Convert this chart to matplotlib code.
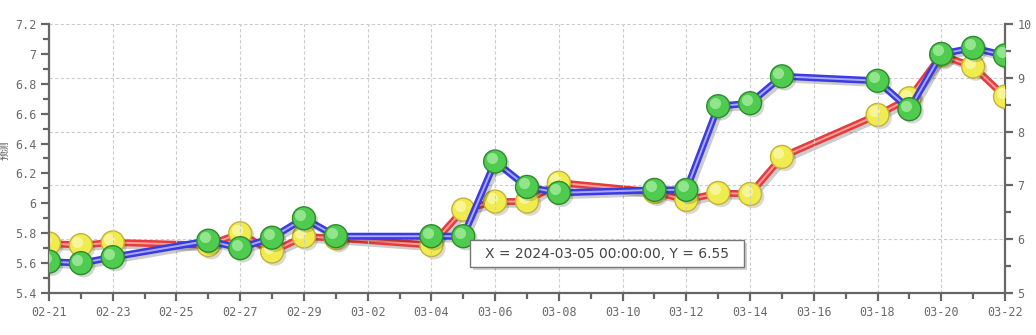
import matplotlib
matplotlib.use("Agg")
import matplotlib.pyplot as plt
import matplotlib.dates as mdates
import matplotlib.patheffects as pe
import matplotlib.transforms as mtransforms
from matplotlib.ticker import MultipleLocator, FuncFormatter
from matplotlib.patches import Rectangle
import numpy as np
import pandas as pd

dates = ['2024-02-21', '2024-02-22', '2024-02-23', '2024-02-26', '2024-02-27',
         '2024-02-28', '2024-02-29', '2024-03-01', '2024-03-04', '2024-03-05',
         '2024-03-06', '2024-03-07', '2024-03-08', '2024-03-11', '2024-03-12',
         '2024-03-13', '2024-03-14', '2024-03-15', '2024-03-18', '2024-03-19',
         '2024-03-20', '2024-03-21', '2024-03-22']
green_left = [5.61, 5.60, 5.64, 5.75, 5.70, 5.77, 5.90, 5.78, 5.78, 5.78,
              6.28, 6.11, 6.07, 6.09, 6.09, 6.65, 6.67, 6.85, 6.82, 6.63,
              7.00, 7.04, 6.99]
yellow_right = [5.92, 5.89, 5.94, 5.89, 6.11, 5.77, 6.05, 6.02, 5.89, 6.55,
                6.70, 6.70, 7.05, 6.88, 6.73, 6.86, 6.84, 7.53, 8.31, 8.62,
                9.42, 9.21, 8.65]
x_start, x_end = '2024-02-21', '2024-03-22'
tooltip = "X = 2024-03-05 00:00:00, Y = 6.55"
ylabel_left = "预测"

W, H = 1036, 335
fig = plt.figure(figsize=(W / 100, H / 100), dpi=100)
L, R, T, B = 49, 1005, 24, 293
ax = fig.add_axes([L / W, 1 - B / H, (R - L) / W, (B - T) / H])
ax2 = ax.twinx()
ax.set_zorder(2)
ax2.set_zorder(1)
ax.patch.set_visible(False)

xd = mdates.date2num(pd.to_datetime(dates))
x0 = mdates.date2num(pd.Timestamp(x_start))
x1 = mdates.date2num(pd.Timestamp(x_end))

def draw_series(a, y, outer, inner, face, edge, hl):
    shadow = [pe.SimpleLineShadow(offset=(2, -2), shadow_color='#000000', alpha=0.2), pe.Normal()]
    a.plot(xd, y, color=outer, lw=5.0, solid_capstyle='round', solid_joinstyle='round',
           path_effects=shadow, zorder=2)
    a.plot(xd, y, color=inner, lw=1.4, zorder=3)
    a.plot(xd, y, ls='none', marker='o', ms=16.5, mfc=face, mec=edge, mew=1.0, zorder=4,
           path_effects=[pe.SimplePatchShadow(offset=(2, -2), alpha=0.2), pe.Normal()])
    off = mtransforms.ScaledTranslation(-2.5 / 72, 2.5 / 72, fig.dpi_scale_trans)
    a.plot(xd, y, ls='none', marker='o', ms=8, mfc=hl, mec='none', alpha=0.6, zorder=5,
           transform=a.transData + off)

draw_series(ax2, yellow_right, '#e83c3c', '#ff9c9c', '#f0ec50', '#c4b23a', '#fdfcc8')
draw_series(ax, green_left, '#3b3be0', '#a9a9ff', '#4fcb4f', '#2f8a2f', '#c0f7b8')

ax.set_xlim(x0, x1)
ax.set_ylim(5.4, 7.2)
ax2.set_ylim(5, 10)

ax.xaxis.set_major_locator(MultipleLocator(2))
ax.xaxis.set_minor_locator(MultipleLocator(1))
ax.xaxis.set_major_formatter(mdates.DateFormatter('%m-%d'))
ax.yaxis.set_major_locator(MultipleLocator(0.2))
ax.yaxis.set_minor_locator(MultipleLocator(0.1))
ax.yaxis.set_major_formatter(FuncFormatter(lambda v, p: f"{v:g}"))
ax2.yaxis.set_major_locator(MultipleLocator(1))
ax2.yaxis.set_minor_locator(MultipleLocator(0.5))
ax2.yaxis.set_major_formatter(FuncFormatter(lambda v, p: f"{v:g}"))

for a in (ax, ax2):
    for s in a.spines.values():
        s.set_visible(False)
ax.spines['left'].set_visible(True)
ax.spines['bottom'].set_visible(True)
ax2.spines['right'].set_visible(True)
for s in (ax.spines['left'], ax.spines['bottom'], ax2.spines['right']):
    s.set_color('#666666')
    s.set_linewidth(1.6)

ax.tick_params(axis='both', which='major', length=6, width=1.6, color='#666666',
               labelcolor='#6a6a6a', labelsize=8.5, pad=3)
ax.tick_params(axis='both', which='minor', length=4, width=1.6, color='#666666')
ax2.tick_params(axis='y', which='major', length=6, width=1.6, color='#666666',
                labelcolor='#6a6a6a', labelsize=8.5, pad=3)
ax2.tick_params(axis='y', which='minor', length=4, width=1.6, color='#666666')
for lab in ax.get_xticklabels() + ax.get_yticklabels() + ax2.get_yticklabels():
    lab.set_fontfamily('DejaVu Sans Mono')

ax.grid(True, axis='x', which='major', color='#cccccc', ls=(0, (3, 2)), lw=0.8)
ax2.grid(True, axis='y', which='major', color='#cccccc', ls=(0, (3, 2)), lw=0.8)
ax.set_axisbelow(True)
ax2.set_axisbelow(True)

fig.text(5 / W, 1 - 150 / H, ylabel_left, rotation=90, fontsize=7, color='#555555',
         family=['Noto Sans CJK SC', 'DejaVu Sans'], ha='center', va='center')

# tooltip
bx0, by0, bx1, by1 = 470, 240, 744, 267
fig.patches.append(Rectangle(((bx0 + 3) / W, 1 - (by1 + 3) / H), (bx1 - bx0) / W, (by1 - by0) / H,
                             transform=fig.transFigure, facecolor='#000000', alpha=0.18,
                             edgecolor='none', zorder=20))
fig.patches.append(Rectangle((bx0 / W, 1 - by1 / H), (bx1 - bx0) / W, (by1 - by0) / H,
                             transform=fig.transFigure, facecolor='white',
                             edgecolor='#777777', lw=1.0, zorder=21))
fig.text((bx0 + bx1) / 2 / W, 1 - (by0 + by1) / 2 / H, tooltip, fontsize=10, color='#444444',
         ha='center', va='center', zorder=22)

fig.savefig('out.png', dpi=100)
